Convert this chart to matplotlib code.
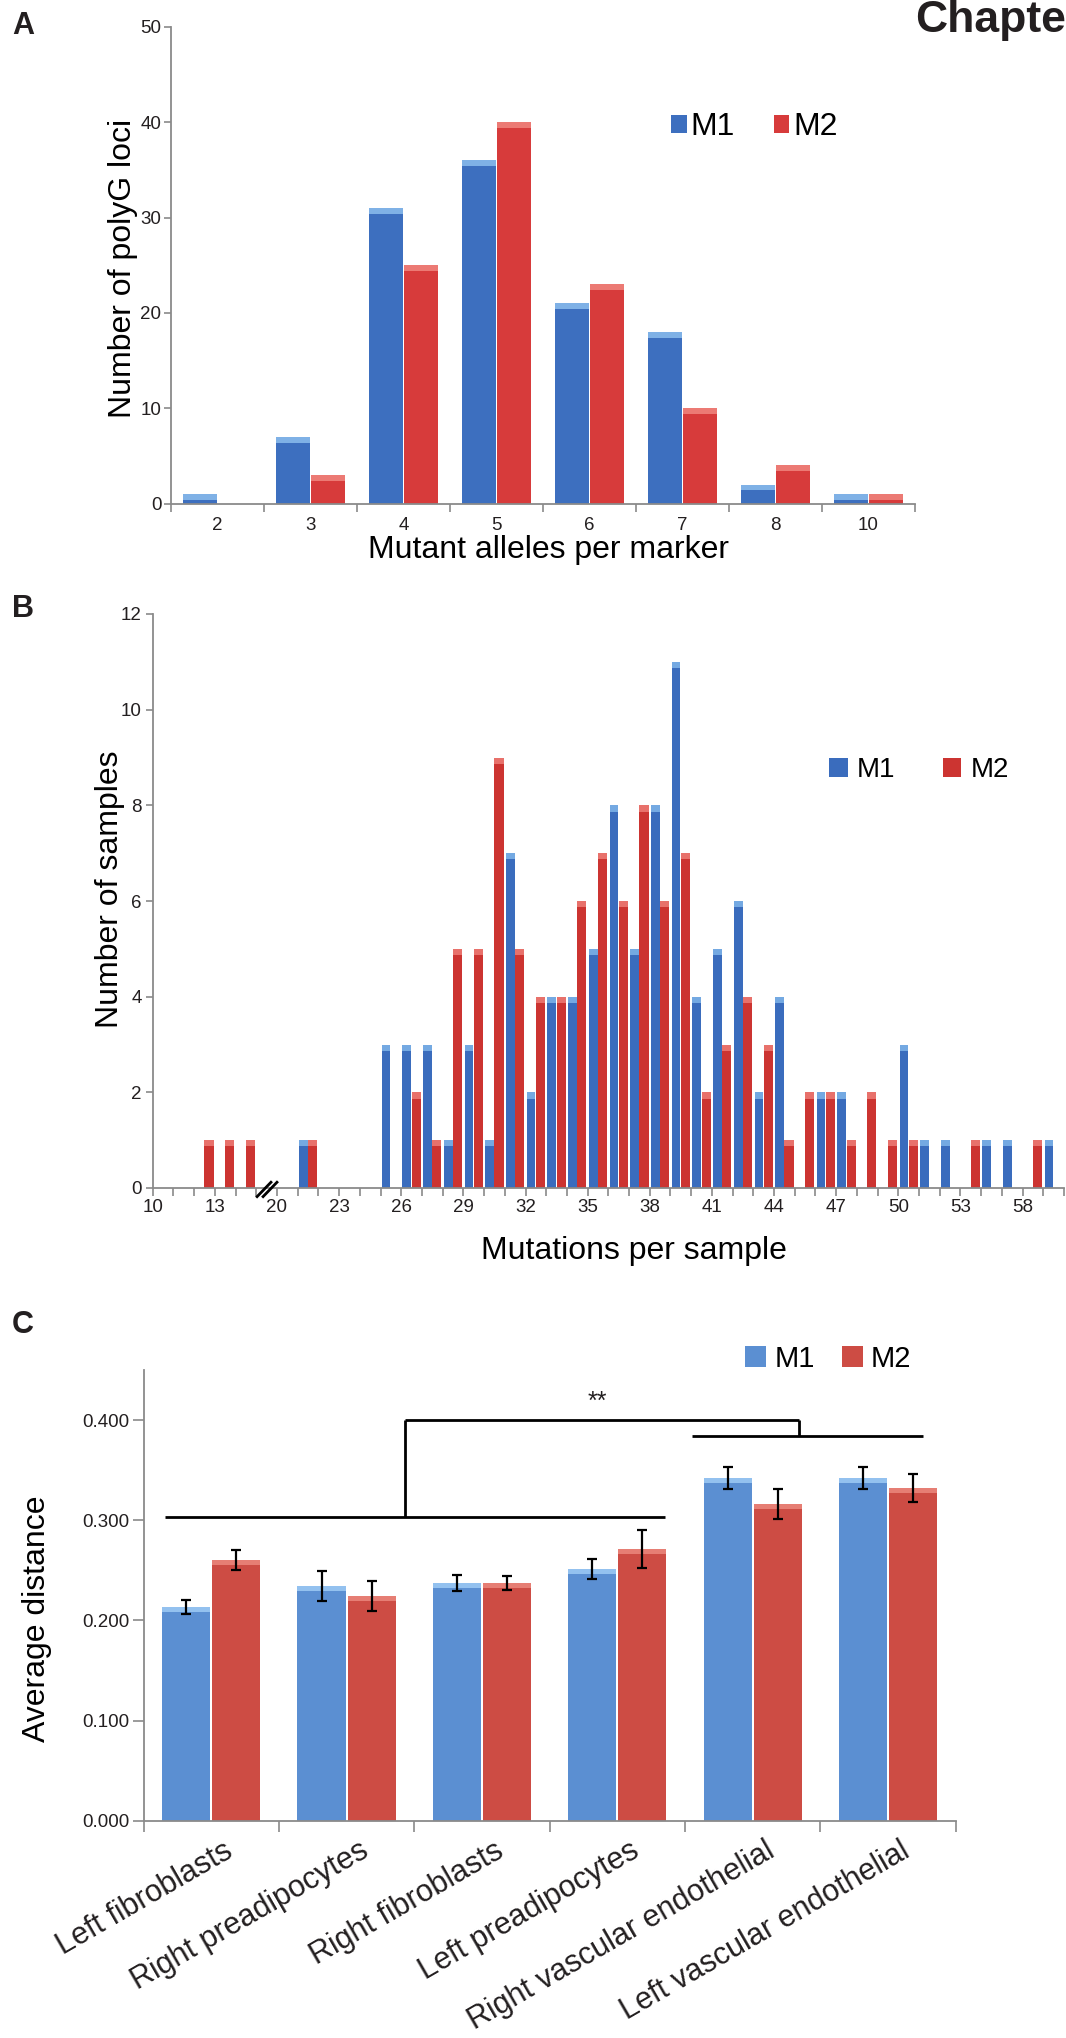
import numpy as np
import matplotlib
matplotlib.use("Agg")
import matplotlib.pyplot as plt
from matplotlib.transforms import ScaledTranslation

plt.rcParams['font.family'] = ['Liberation Sans', 'DejaVu Sans']

# ---------------- Data ----------------
# Panel A
a_categories = ['2', '3', '4', '5', '6', '7', '8', '10']
a_m1 = [1, 7, 31, 36, 21, 18, 2, 1]
a_m2 = [0, 3, 25, 40, 23, 10, 4, 1]

# Panel B (one slot per category between tick marks; a break after slot 4)
b_tick_labels = ['10', '13', '20', '23', '26', '29', '32', '35', '38', '41',
                 '44', '47', '50', '53', '58']
b_m1 = [0, 0, 0, 0, 0, 0, 0, 1, 0, 0, 0, 3, 3, 3, 1, 3, 1, 7, 2, 4, 4, 5,
        8, 5, 8, 11, 4, 5, 6, 2, 4, 0, 2, 2, 0, 0, 3, 1, 1, 0, 1, 1, 0, 1]
b_m2 = [0, 0, 1, 1, 1, 0, 0, 1, 0, 0, 0, 0, 2, 1, 5, 5, 9, 5, 4, 4, 6, 7,
        6, 8, 6, 7, 2, 3, 4, 3, 1, 2, 2, 1, 2, 1, 1, 0, 0, 1, 0, 0, 1, 0]

# Panel C
c_categories = ['Left fibroblasts', 'Right preadipocytes', 'Right fibroblasts',
                'Left preadipocytes', 'Right vascular endothelial',
                'Left vascular endothelial']
c_m1 = [0.213, 0.234, 0.237, 0.251, 0.342, 0.342]
c_m2 = [0.260, 0.224, 0.237, 0.271, 0.316, 0.332]
c_m1_err = [0.007, 0.015, 0.008, 0.010, 0.011, 0.011]
c_m2_err = [0.010, 0.015, 0.007, 0.019, 0.015, 0.014]

# ---------------- Figure ----------------
W, H = 1066, 2038
fig = plt.figure(figsize=(W / 100, H / 100), dpi=100)

SPINE = '#8a8a8a'
TXT = '#231f20'
LBL = 23
TICK = 13.5


def style(ax):
    for s in ('top', 'right'):
        ax.spines[s].set_visible(False)
    for s in ('left', 'bottom'):
        ax.spines[s].set_color(SPINE)
        ax.spines[s].set_linewidth(1.3)
    ax.tick_params(which='both', colors=SPINE, labelcolor=TXT,
                   labelsize=TICK, width=1.2)


def draw_bars(ax, x, vals, width, color, cap_color, cap_h, label):
    v = np.asarray(vals, float)
    bars = ax.bar(x, v, width, color=color, edgecolor='none', label=label)
    m = v > 0
    ch = np.minimum(cap_h, v[m])
    ax.bar(x[m], ch, width, bottom=v[m] - ch, color=cap_color, edgecolor='none')
    return bars


# ---------------- Panel A ----------------
axA = fig.add_axes([171 / W, 1 - 503.6 / H, 744 / W, 476.8 / H])
style(axA)
xa = np.arange(len(a_categories))
hA1 = draw_bars(axA, xa - 0.185, a_m1, 0.365, '#3d6fbf', '#7fb1e6', 0.6, 'M1')
hA2 = draw_bars(axA, xa + 0.185, a_m2, 0.365, '#d73b3b', '#ec7a74', 0.6, 'M2')
axA.set_xlim(-0.5, len(a_categories) - 0.5)
axA.set_ylim(0, 50)
axA.set_yticks(range(0, 51, 10))
axA.set_xticks(np.arange(len(a_categories) + 1) - 0.5)
axA.set_xticklabels([])
axA.set_xticks(xa, minor=True)
axA.set_xticklabels(a_categories, minor=True, fontsize=TICK)
axA.tick_params(axis='x', which='major', length=6, direction='out')
axA.tick_params(axis='x', which='minor', length=0, pad=10)
axA.tick_params(axis='y', length=5, pad=2)
axA.set_xlabel('Mutant alleles per marker', fontsize=LBL)
axA.xaxis.set_label_coords(0.507, -0.066)
axA.set_ylabel('Number of polyG loci', fontsize=LBL)
axA.yaxis.set_label_coords(-0.045, 0.494)
axA.legend(handles=[hA1, hA2], loc='center left',
           bbox_to_anchor=(671 / W, 1 - 127 / H), bbox_transform=fig.transFigure,
           ncol=2, frameon=False, fontsize=23, handlelength=0.5, handleheight=0.5,
           handletextpad=0.12, columnspacing=1.2, borderpad=0, borderaxespad=0)

# ---------------- Panel B ----------------
axB = fig.add_axes([152.7 / W, 1 - 1188 / H, 911.3 / W, 574 / H])
style(axB)
nb = len(b_m1)
xb = np.arange(nb)
hB1 = draw_bars(axB, xb + 0.27, b_m1, 0.42, '#3a6cbd', '#74a9e2', 0.13, 'M1')
hB2 = draw_bars(axB, xb + 0.72, b_m2, 0.44, '#cc3431', '#e8716b', 0.13, 'M2')
axB.set_xlim(0, nb)
axB.set_ylim(0, 12)
axB.set_yticks(range(0, 13, 2))
labsB = [''] * (nb + 1)
for k, t in enumerate(b_tick_labels):
    labsB[3 * k] = t
axB.set_xticks(np.arange(nb + 1))
axB.set_xticklabels(labsB)
axB.tick_params(axis='x', length=6, direction='out', pad=2)
axB.tick_params(axis='y', length=5, pad=3)
axB.set_xlabel('Mutations per sample', fontsize=LBL)
axB.xaxis.set_label_coords(0.528, -0.083)
axB.set_ylabel('Number of samples', fontsize=LBL)
axB.yaxis.set_label_coords(-0.03, 0.52)
# axis break marks
for dx in (0.0, 0.29):
    axB.plot([5.04 + dx, 5.71 + dx], [-0.18, 0.12], color='black', lw=2,
             clip_on=False, zorder=5)
axB.legend(handles=[hB1, hB2], loc='center left',
           bbox_to_anchor=(829 / W, 1 - 770 / H), bbox_transform=fig.transFigure,
           ncol=2, frameon=False, fontsize=20, handlelength=0.68, handleheight=0.68,
           handletextpad=0.32, columnspacing=1.7, borderpad=0, borderaxespad=0)

# ---------------- Panel C ----------------
axC = fig.add_axes([143.5 / W, 1 - 1820.7 / H, 812.3 / W, (1820.7 - 1370) / H])
style(axC)
nc = len(c_categories)
xc = np.arange(nc)
hC1 = draw_bars(axC, xc - 0.185, c_m1, 0.355, '#5b8fd2', '#93c1ef', 0.005, 'M1')
hC2 = draw_bars(axC, xc + 0.185, c_m2, 0.355, '#cd4c44', '#e67e74', 0.005, 'M2')
axC.errorbar(xc - 0.185, c_m1, yerr=c_m1_err, fmt='none', ecolor='black',
             elinewidth=1.6, capsize=3.5, capthick=1.6)
axC.errorbar(xc + 0.185, c_m2, yerr=c_m2_err, fmt='none', ecolor='black',
             elinewidth=1.6, capsize=3.5, capthick=1.6)
axC.set_xlim(-0.5, nc - 0.5)
axC.set_ylim(0, 0.45)
axC.set_yticks(np.arange(0, 0.41, 0.1))
axC.set_yticklabels(['%.3f' % t for t in np.arange(0, 0.41, 0.1)])
axC.set_xticks(np.arange(nc + 1) - 0.5)
axC.set_xticklabels([])
axC.set_xticks(xc, minor=True)
axC.set_xticklabels(c_categories, minor=True, rotation=30, ha='right',
                    va='top', rotation_mode='anchor', fontsize=22)
axC.tick_params(axis='x', which='major', length=8, direction='out')
axC.tick_params(axis='x', which='minor', length=0, pad=11)
axC.tick_params(axis='y', length=8, pad=2)
off = ScaledTranslation(0.12, 0, fig.dpi_scale_trans)
for lbl in axC.get_xticklabels(minor=True):
    lbl.set_transform(lbl.get_transform() + off)
axC.set_ylabel('Average distance', fontsize=LBL)
axC.yaxis.set_label_coords(-0.113, 0.449)
# significance bracket
bk = dict(color='black', lw=2, solid_capstyle='butt')
axC.plot([-0.344, 3.35], [0.303, 0.303], **bk)
axC.plot([1.43, 1.43], [0.303, 0.400], **bk)
axC.plot([1.43, 4.34], [0.400, 0.400], **bk)
axC.plot([4.34, 4.34], [0.400, 0.384], **bk)
axC.plot([3.55, 5.26], [0.384, 0.384], **bk)
axC.text(2.85, 0.418, '**', ha='center', va='center', fontsize=18, color=TXT)
axC.legend(handles=[hC1, hC2], loc='center left',
           bbox_to_anchor=(745 / W, 1 - 1359 / H), bbox_transform=fig.transFigure,
           ncol=2, frameon=False, fontsize=21, handlelength=0.72, handleheight=0.72,
           handletextpad=0.28, columnspacing=0.93, borderpad=0, borderaxespad=0)

# ---------------- Panel letters / header ----------------
fig.text(12 / W, 1 - 34 / H, 'A', fontsize=22, fontweight='bold', color=TXT, va='baseline')
fig.text(12 / W, 1 - 617 / H, 'B', fontsize=22, fontweight='bold', color=TXT, va='baseline')
fig.text(12 / W, 1 - 1333 / H, 'C', fontsize=22, fontweight='bold', color=TXT, va='baseline')
# running header, cut by the right edge as in the reference page
fig.text(915 / W, 1 - 32 / H, 'Chapter', fontsize=32, fontweight='bold', color=TXT,
         va='baseline')

fig.savefig('out.png', dpi=100)
